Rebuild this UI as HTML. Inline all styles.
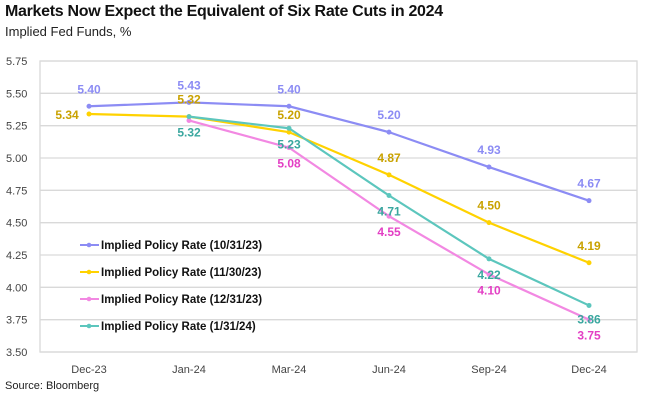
<!DOCTYPE html>
<html><head><meta charset="utf-8"><style>
body{margin:0;background:#fff;font-family:"Liberation Sans",sans-serif;}
#wrap{position:relative;width:651px;height:401px;overflow:hidden}
.t{position:absolute;left:5px;top:3px;font-size:16px;font-weight:bold;color:#111;letter-spacing:-0.3px}
.s{position:absolute;left:5px;top:24px;font-size:13px;color:#222}
.src{position:absolute;left:5px;top:380px;font-size:11px;color:#222}
</style></head><body><div id="wrap">
<div class="t">Markets Now Expect the Equivalent of Six Rate Cuts in 2024</div>
<div class="s">Implied Fed Funds, %</div>
<div class="src">Source: Bloomberg</div>
<svg id="svg" width="651" height="401" style="position:absolute;left:0;top:0"></svg>
</div>
<script>
const categories=["Dec-23","Jan-24","Mar-24","Jun-24","Sep-24","Dec-24"];
const yTicks=[3.50,3.75,4.00,4.25,4.50,4.75,5.00,5.25,5.50,5.75];
const seriesNames=["Implied Policy Rate (10/31/23)","Implied Policy Rate (11/30/23)","Implied Policy Rate (12/31/23)","Implied Policy Rate (1/31/24)"];
const s1=[5.40,5.43,5.40,5.20,4.93,4.67];
const s2=[5.34,5.32,5.20,4.87,4.50,4.19];
const s3=[null,5.29,5.08,4.55,4.10,3.75];
const s4=[null,5.32,5.23,4.71,4.22,3.86];
const lbl3=[null,null,"5.08","4.55","4.10","3.75"];
const ns="http://www.w3.org/2000/svg",svg=document.getElementById('svg');
const X0=40,X1=637,Y0=352,Y1=61;
const x=i=>89+i*100;
const y=v=>Y0-(v-3.5)/(2.25)*(Y0-Y1);
function mk(t,a){const e=document.createElementNS(ns,t);for(const k in a)e.setAttribute(k,a[k]);svg.appendChild(e);return e;}
yTicks.forEach(v=>{
 const g=mk('line',{x1:X0,x2:X1,y1:y(v),y2:y(v),stroke:'#d9d9d9','stroke-width':1.3});
 
 
 const t=mk('text',{x:6,y:y(v)+4,'font-size':11,fill:'#444'});t.textContent=v.toFixed(2);
 
 
});
const fr=mk('rect',{x:X0,y:Y1,width:X1-X0,height:Y0-Y1,fill:'none',stroke:'#d9d9d9','stroke-width':1.3});


categories.forEach((c,i)=>{const t=mk('text',{x:x(i),y:373,'font-size':11,fill:'#444','text-anchor':'middle'});t.textContent=c;
 
 });
const cfg=[
 {d:s1,c:'#8c8cf4',lc:'#8c8cf4',off:[-13,-13,-13,-13,-13,-13],dx:[0,0,0,0,0,0]},
 {d:s2,c:'#ffd200',lc:'#c9a200',off:[5,-13,-13,-13,-13,-13],dx:[-22,0,0,0,0,0]},
 {d:s3,c:'#f288e2',lc:'#e33fc4',off:[0,0,20,20,20,20],dx:[0,0,0,0,0,0]},
 {d:s4,c:'#5cc6bd',lc:'#3aa79f',off:[0,20,20,20,20,18],dx:[0,0,0,0,0,0]}];
cfg.forEach((s,k)=>{
 let p=[];s.d.forEach((v,i)=>{if(v!=null)p.push(x(i)+','+y(v));});
 const l=mk('polyline',{points:p.join(' '),fill:'none',stroke:s.c,'stroke-width':2.2});
 
 
 s.d.forEach((v,i)=>{if(v==null)return;
  const c=mk('circle',{cx:x(i),cy:y(v),r:2.5,fill:s.c});
  
  
  if(k==2&&i==1)return;
  const t=mk('text',{x:x(i)+s.dx[i],y:y(v)+s.off[i]+(s.off[i]>0?0:0),'font-size':12,'font-weight':'bold',fill:s.lc,'text-anchor':'middle'});
  t.textContent=k==2?lbl3[i]:v.toFixed(2);
  
  
 });
 const ly=245+k*27;
 const ll=mk('line',{x1:80,x2:99,y1:ly,y2:ly,stroke:s.c,'stroke-width':2});
 
 
 const lc=mk('circle',{cx:89,cy:ly,r:2.3,fill:s.c});
 
 
 const lt=mk('text',{x:101,y:ly+4,'font-size':11.5,'font-weight':'bold',fill:'#111'});lt.textContent=seriesNames[k];
 
 
});
</script></body></html>
